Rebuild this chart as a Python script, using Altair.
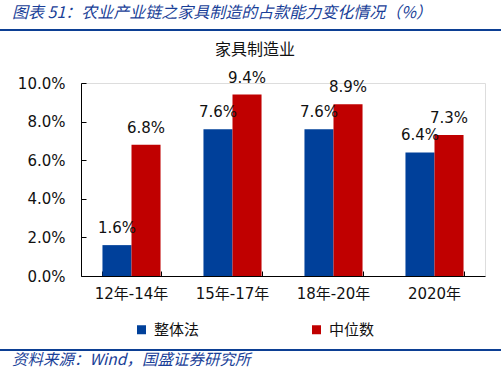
import altair as alt
import pandas as pd

categories = ["12年-14年", "15年-17年", "18年-20年", "2020年"]
series_names = ["整体法", "中位数"]
overall = [1.6, 7.6, 7.6, 6.4]
median = [6.8, 9.4, 8.9, 7.3]
y_ticks = [0, 0.02, 0.04, 0.06, 0.08, 0.10]
colors = ["#00409A", "#C00000"]

header = "图表 51：农业产业链之家具制造的占款能力变化情况（%）"
subtitle = "家具制造业"
footer = "资料来源：Wind，国盛证券研究所"

rows = []
for i, c in enumerate(categories):
    rows.append({"cat": c, "series": series_names[0], "v": overall[i] / 100})
    rows.append({"cat": c, "series": series_names[1], "v": median[i] / 100})
df = pd.DataFrame(rows)

FONT = "DejaVu Sans, Noto Sans CJK SC"
CJK = "Noto Sans CJK SC"
W, H = 404, 193

xscale = alt.Scale(domain=categories, paddingInner=0.425, paddingOuter=0.2125)
yscale = alt.Scale(domain=[0, 0.1])

base = alt.Chart(df)

bars = base.mark_bar().encode(
    x=alt.X("cat:N", scale=xscale, sort=categories, title=None,
            axis=alt.Axis(orient="bottom", labelAngle=0, ticks=False, domainColor="#000", labelFont=FONT,
                          labelFontSize=15, labelColor="#111", labelPadding=10)),
    xOffset=alt.XOffset("series:N", sort=series_names,
                        scale=alt.Scale(paddingInner=0, paddingOuter=0)),
    y=alt.Y("v:Q", scale=yscale, title=None,
            axis=alt.Axis(orient="left", values=y_ticks, format=".1%", ticks=False, grid=False,
                          domainColor="#000", labelFont=FONT, labelFontSize=15, labelColor="#111",
                          labelPadding=16)),
    color=alt.Color("series:N", sort=series_names,
                    scale=alt.Scale(domain=series_names, range=colors),
                    legend=alt.Legend(title=None, orient="none", direction="horizontal",
                                      legendX=53, legendY=239, symbolType="square",
                                      symbolSize=81, symbolStrokeWidth=0, labelFont=CJK,
                                      labelFontSize=15, labelColor="#111", columnPadding=109,
                                      labelOffset=5, padding=0)),
)

labels = base.mark_text(baseline="alphabetic", dy=-12, font=FONT, fontSize=15, color="#111").encode(
    x=alt.X("cat:N", scale=xscale, sort=categories, axis=None),
    xOffset=alt.XOffset("series:N", sort=series_names),
    y=alt.Y("v:Q", scale=yscale, axis=None),
    text=alt.Text("v:Q", format=".1%"),
)

ticklayer = base.mark_point(opacity=0).encode(
    x=alt.X("cat:N", scale=xscale, sort=categories, title=None,
            axis=alt.Axis(offset=-5, domain=False, labels=False, ticks=True, tickSize=5,
                          tickBand="extent", tickColor="#000", orient="bottom")),
    y=alt.Y("v:Q", scale=yscale, title=None,
            axis=alt.Axis(values=y_ticks, offset=-5, domain=False, labels=False, ticks=True,
                          tickSize=5, tickColor="#000", grid=False, orient="left")),
)

hdr = alt.Chart(pd.DataFrame({"t": [header]})).mark_text(
    align="left", baseline="middle", font=CJK, fontSize=16, fontStyle="italic", color="#1A3F98"
).encode(x=alt.value(-69), y=alt.value(-70), text="t:N")

sub = alt.Chart(pd.DataFrame({"t": [subtitle]})).mark_text(
    align="center", baseline="middle", font=CJK, fontSize=16, color="#111"
).encode(x=alt.value(174), y=alt.value(-33), text="t:N")

ftr = alt.Chart(pd.DataFrame({"t": [footer]})).mark_text(
    align="left", baseline="middle", font=CJK, fontSize=15.5, fontStyle="italic", color="#1A3F98"
).encode(x=alt.value(-69), y=alt.value(277), text="t:N")

rule_df = pd.DataFrame({"r": [0]})
top_rule = alt.Chart(rule_df).mark_rule(color="#0C3F94", strokeWidth=2).encode(
    x=alt.value(-81), x2=alt.value(420), y=alt.value(-53))
bot_rule = alt.Chart(rule_df).mark_rule(color="#0C3F94", strokeWidth=2).encode(
    x=alt.value(-81), x2=alt.value(420), y=alt.value(267))

chart = alt.layer(ticklayer, bars, labels, hdr, sub, ftr, top_rule, bot_rule).resolve_axis(
    x="independent", y="independent"
).properties(
    width=W, height=H,
    autosize=alt.AutoSizeParams(type="none"),
    padding={"left": 81, "top": 83, "right": 16, "bottom": 100},
).configure_view(stroke=None).configure(background="white")

chart.save("out.html", embed_options={"renderer": "svg", "actions": False})
